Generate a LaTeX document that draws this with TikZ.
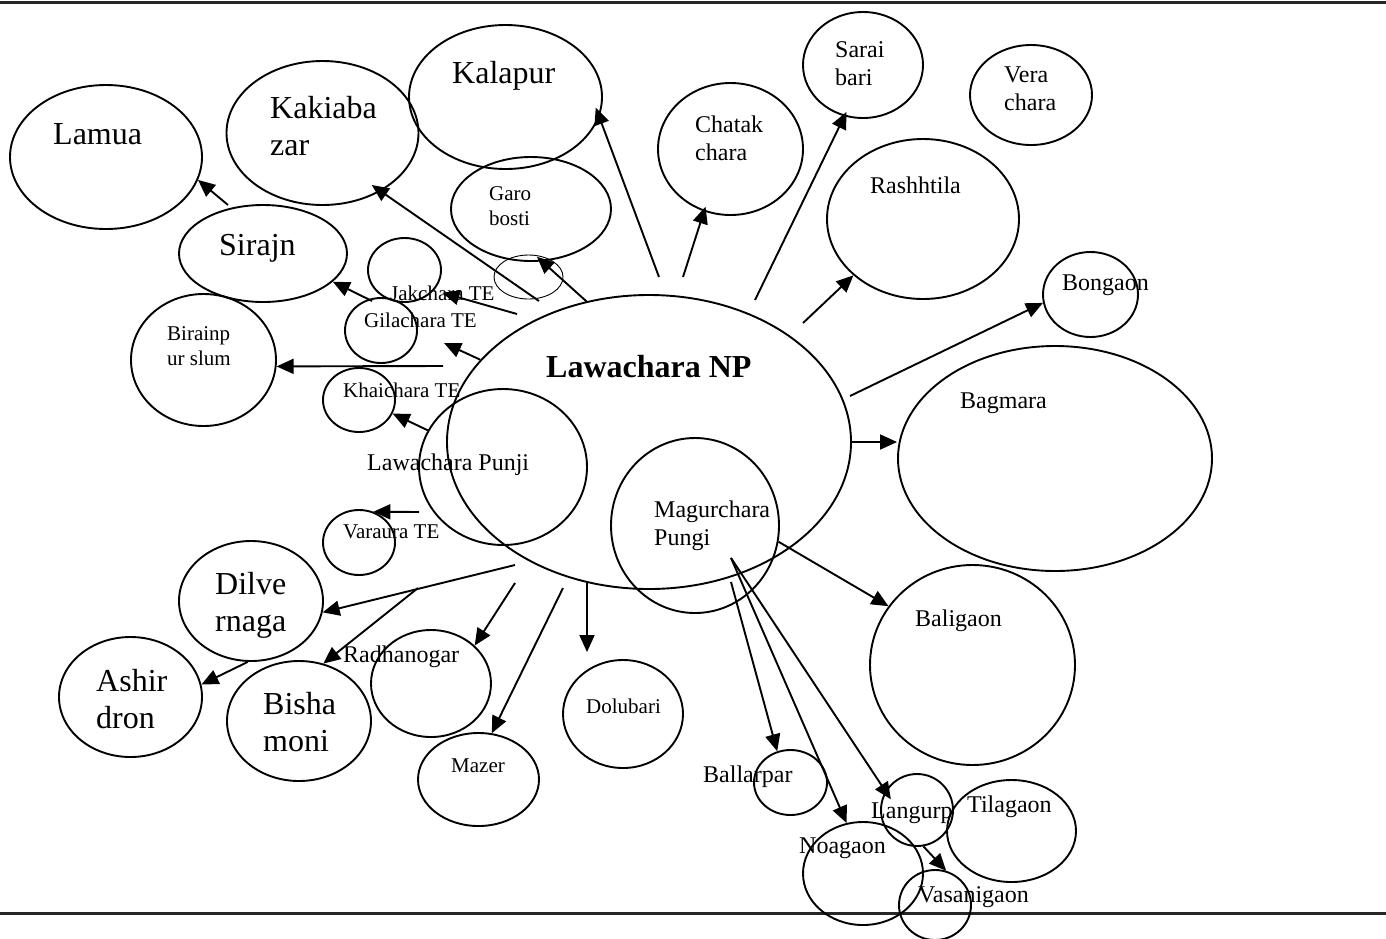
\documentclass[tikz,border=0pt]{standalone}
\usepackage{fontspec}
\setmainfont{Liberation Serif}
\usetikzlibrary{shapes.geometric,arrows.meta}
\newcommand\twoline[2]{\begin{tabular}[t]{@{}l@{}}#1\\#2\end{tabular}}
\begin{document}
\begin{tikzpicture}[x=1pt,y=-1pt,
  bubble/.style={draw, ellipse, line width=1.9pt, inner sep=0pt},
  thinbubble/.style={draw, ellipse, line width=0.9pt, inner sep=0pt},
  arr/.style={line width=1.9pt, -{Triangle[length=17pt,width=15pt]}},
  big/.style={font=\fontsize{32}{37}\selectfont, inner sep=0pt, anchor=base west},
  mid/.style={font=\fontsize{24}{28}\selectfont, inner sep=0pt, anchor=base west},
  sml/.style={font=\fontsize{21}{25}\selectfont, inner sep=0pt, anchor=base west},
  rule/.style={line width=3pt, black!85}]
\useasboundingbox (0,0) rectangle (1386,938);

% page rules
\coordinate (rule-tl) at (0,2);
\coordinate (rule-tr) at (1386,2);
\coordinate (rule-bl) at (0,913);
\coordinate (rule-br) at (1386,913);
\draw[rule] (rule-tl) -- (rule-tr);
\draw[rule] (rule-bl) -- (rule-br);

% places
\node[bubble, minimum width=192pt, minimum height=144pt] (lamua) at (106,157) {};
\node[bubble, minimum width=192pt, minimum height=144pt] (kak) at (322.5,133) {};
\node[bubble, minimum width=193pt, minimum height=144pt] (kal) at (505.5,97) {};
\node[bubble, minimum width=160pt, minimum height=104pt] (garo) at (531,209) {};
\node[thinbubble, minimum width=69pt, minimum height=44pt] (gsm) at (528.5,277) {};
\node[bubble, minimum width=168pt, minimum height=97pt] (sirajn) at (263,253.5) {};
\node[bubble, minimum width=73pt, minimum height=64pt] (jak) at (404.5,270) {};
\node[bubble, minimum width=72pt, minimum height=65pt] (gil) at (381,330.5) {};
\node[bubble, minimum width=145pt, minimum height=132pt] (bir) at (203.5,360) {};
\node[bubble, minimum width=72pt, minimum height=64pt] (khai) at (359,400) {};
\node[bubble, minimum width=404pt, minimum height=294pt] (np) at (649,442) {};
\node[bubble, minimum width=168pt, minimum height=156pt] (lp) at (503,467) {};
\node[bubble, minimum width=168pt, minimum height=175pt] (mag) at (695,525.5) {};
\node[bubble, minimum width=145pt, minimum height=132pt] (chat) at (730.5,149) {};
\node[bubble, minimum width=120pt, minimum height=106pt] (sarai) at (863,65) {};
\node[bubble, minimum width=122pt, minimum height=100pt] (vera) at (1031,95) {};
\node[bubble, minimum width=192pt, minimum height=160pt] (rash) at (923,219) {};
\node[bubble, minimum width=95pt, minimum height=85pt] (bong) at (1090.5,294.5) {};
\node[bubble, minimum width=314pt, minimum height=225pt] (bag) at (1055,458.5) {};
\node[bubble, minimum width=205pt, minimum height=200pt] (bali) at (972.5,665) {};
\node[bubble, minimum width=72pt, minimum height=65pt] (var) at (359,542.5) {};
\node[bubble, minimum width=144pt, minimum height=120pt] (dil) at (251,601) {};
\node[bubble, minimum width=143pt, minimum height=120pt] (ashir) at (130.5,697) {};
\node[bubble, minimum width=144pt, minimum height=120pt] (bish) at (299,721) {};
\node[bubble, minimum width=120pt, minimum height=107pt] (rad) at (431,683.5) {};
\node[bubble, minimum width=121pt, minimum height=93pt] (maz) at (478.5,779.5) {};
\node[bubble, minimum width=120pt, minimum height=108pt] (dolu) at (623,714) {};
\node[bubble, minimum width=73pt, minimum height=65pt] (ball) at (790.5,782.5) {};
\node[bubble, minimum width=120pt, minimum height=103pt] (noa) at (863,873.5) {};
\node[bubble, minimum width=72pt, minimum height=72pt] (lang) at (917,810) {};
\node[bubble, minimum width=129pt, minimum height=102pt] (tila) at (1011.5,831) {};
\node[bubble, minimum width=72pt, minimum height=70pt] (vas) at (935,905) {};

% names
\node[big] (lamua-t) at (53,144) {Lamua};
\node[big] (kak-t) at (270,118) {\twoline{Kakiaba}{zar}};
\node[big] (kal-t) at (452,83) {Kalapur};
\node[big] (sirajn-t) at (219,255) {Sirajn};
\node[big] (dil-t) at (215,594) {\twoline{Dilve}{rnaga}};
\node[big] (ashir-t) at (96,691) {\twoline{Ashir}{dron}};
\node[big] (bish-t) at (263,714) {\twoline{Bisha}{moni}};
\node[big, font=\fontsize{32}{37}\selectfont\bfseries] (np-t) at (546,377) {Lawachara NP};
\node[mid] (chat-t) at (695,132) {\twoline{Chatak}{chara}};
\node[mid] (sarai-t) at (835,57) {\twoline{Sarai}{bari}};
\node[mid] (vera-t) at (1004,82) {\twoline{Vera}{chara}};
\node[mid] (rash-t) at (870,193) {Rashhtila};
\node[mid] (bong-t) at (1062,290) {Bongaon};
\node[mid] (bag-t) at (960,408) {Bagmara};
\node[mid] (lp-t) at (367,470) {Lawachara Punji};
\node[mid] (mag-t) at (654,517) {\twoline{Magurchara}{Pungi}};
\node[mid] (bali-t) at (915,626) {Baligaon};
\node[mid] (rad-t) at (343,662) {Radhanogar};
\node[mid] (ball-t) at (703,782) {Ballarpar};
\node[mid] (noa-t) at (799,853) {Noagaon};
\node[mid] (lang-t) at (871,818) {Langurp};
\node[mid] (tila-t) at (967,812) {Tilagaon};
\node[mid] (vas-t) at (918,902) {Vasanigaon};
\node[sml] (garo-t) at (489,200) {\twoline{Garo}{bosti}};
\node[sml] (jak-t) at (390,300) {Jakchara TE};
\node[sml] (gil-t) at (364,327) {Gilachara TE};
\node[sml] (khai-t) at (343,397) {Khaichara TE};
\node[sml] (bir-t) at (167,340) {\twoline{Birainp}{ur slum}};
\node[sml] (var-t) at (343,538) {Varaura TE};
\node[sml] (maz-t) at (451,772) {Mazer};
\node[sml] (dolu-t) at (586,713) {Dolubari};

% loose ends of the connectors
\coordinate (f-lamua) at (228,205);
\coordinate (f-sirajn) at (372,301);
\coordinate (f-kak) at (539,301);
\coordinate (f-jak) at (517,314);
\coordinate (f-bir) at (443,366);
\coordinate (f-kal) at (659,277);
\coordinate (f-chat) at (683,277);
\coordinate (f-sarai) at (755,300);
\coordinate (f-rash) at (803,323);
\coordinate (f-bong) at (850,396);
\coordinate (f-var) at (419,512);
\coordinate (f-dil) at (515,565);
\coordinate (f-bish) at (418,588);
\coordinate (f-rad) at (515,583);
\coordinate (f-maz) at (563,588);
\coordinate (f-dolu) at (587,583);
\coordinate (f-ball) at (731,582);
\coordinate (f-mag) at (731,558);
\coordinate (gil-tip) at (444,343);

% connectors (negative shortening lets a head run over the rim)
\draw[arr] (f-lamua) -- (lamua.-14);
\draw[arr] (f-sirajn) -- (sirajn.-22);
\draw[arr, shorten >=-11pt] (f-kak) -- (kak.-45);
\draw[arr, shorten >=-7pt] (np.114) -- (garo.-78);
\draw[arr] (f-jak) -- (jak-t.center);
\draw[arr] (np.154) -- (gil-tip);
\draw[arr] (f-bir) -- (bir.-5);
\draw[arr] (lp.154) -- (khai.-22);
\draw[arr, shorten >=-10pt] (f-kal) -- (kal.-12);
\draw[arr, shorten >=-5pt] (f-chat) -- (chat.-113);
\draw[arr, shorten >=-5pt] (f-sarai) -- (sarai.-110);
\draw[arr] (f-rash) -- (rash.-141);
\draw[arr] (f-bong) -- (bong.-170);
\draw[arr] (np.east) -- (np.east -| bag.west);
\draw[arr] (mag.-11) -- (bali.145);
\draw[arr] (f-var) -- (var.65);
\draw[arr] (f-dil) -- (dil.-9);
\draw[arr] (f-bish) -- (bish.67);
\draw[arr] (dil.-93) -- (ashir.10);
\draw[arr] (f-rad) -- (rad.41);
\draw[arr] (f-maz) -- (maz.74);
\draw[arr, shorten >=7pt] (f-dolu) -- (f-dolu |- dolu.north);
\draw[arr] (f-ball) -- (ball.113);
\draw[arr] (f-mag) -- (noa.108);
\draw[arr, shorten >=-10pt] (f-mag) -- (lang.149);
\draw[arr] (lang.-80) -- (vas.72);
\end{tikzpicture}
\end{document}
